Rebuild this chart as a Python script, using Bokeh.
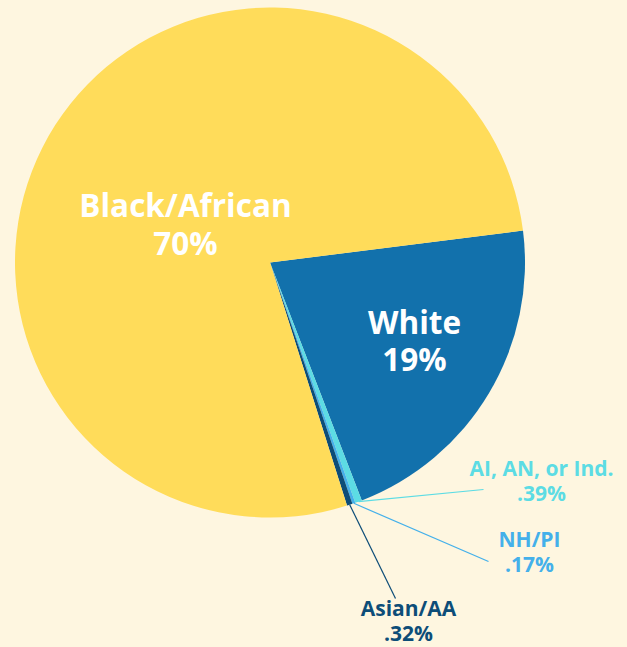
import math
from bokeh.plotting import figure
from bokeh.models import Range1d, ColumnDataSource
from bokeh.core.properties import value
from bokeh.embed import file_html
from bokeh.resources import INLINE

# ---- data (clockwise order, starting with White) ----
categories = ["White", "AI, AN, or Ind.", "NH/PI", "Asian/AA", "Black/African"]
values = [19.0, 0.39, 0.17, 0.32, 70.0]
pct_labels = ["19%", ".39%", ".17%", ".32%", "70%"]
colors = ["#1271AC", "#5CDCE4", "#44B0EA", "#0D4D78", "#FFDC5A"]

BG = "#FEF6E0"
W, H = 627, 647

p = figure(width=W, height=H, output_backend="svg", toolbar_location=None,
           x_range=Range1d(0, W), y_range=Range1d(0, H), min_border=0,
           background_fill_color=BG, border_fill_color=BG)
p.axis.visible = False
p.grid.visible = False
p.outline_line_color = None

cx, cy, r = 269.5, 385.0, 255.0
start_deg = 7.2
total = sum(values)
starts, ends, mids = [], [], []
a = start_deg
for v in values:
    span = v / total * 360.0
    ends.append(math.radians(a))
    starts.append(math.radians(a - span))
    mids.append(math.radians(a - span / 2))
    a -= span

src = ColumnDataSource(dict(start=starts, end=ends, color=colors))
p.wedge(x=cx, y=cy, radius=r, start_angle="start", end_angle="end",
        fill_color="color", line_color=None, source=src)

font = value("Open Sans")

# big labels (inside)
big_pos = {"White": (414, 326, 289), "Black/African": (185, 443, 405)}
for i, cat in enumerate(categories):
    if cat in big_pos:
        x, y1, y2 = big_pos[cat]
        p.text(x=[x, x], y=[y1, y2], text=[cat, pct_labels[i]], text_font=font,
               text_font_style="bold", text_font_size="31.5px", text_color="white",
               text_align="center", text_baseline="alphabetic")

# small labels with leader lines
small_pos = {
    "AI, AN, or Ind.": (541, 180, 155, 483, 158),
    "NH/PI": (529, 109, 84, 488, 86),
    "Asian/AA": (408, 40, 15, 395, 49),
}
for i, cat in enumerate(categories):
    if cat in small_pos:
        x, y1, y2, lx, ly = small_pos[cat]
        sx = cx + r * math.cos(mids[i])
        sy = cy + r * math.sin(mids[i])
        p.line(x=[sx, lx], y=[sy, ly], line_color=colors[i], line_width=1.2)
        p.text(x=[x, x], y=[y1, y2], text=[cat, pct_labels[i]], text_font=font,
               text_font_style="bold", text_font_size="21px", text_color=colors[i],
               text_align="center", text_baseline="alphabetic")

html = file_html(p, INLINE)
html = html.replace("<head>", "<head><style>html,body{margin:0!important;padding:0;background:#FEF6E0;overflow:hidden;}</style>", 1)
open("out.html", "w").write(html)
